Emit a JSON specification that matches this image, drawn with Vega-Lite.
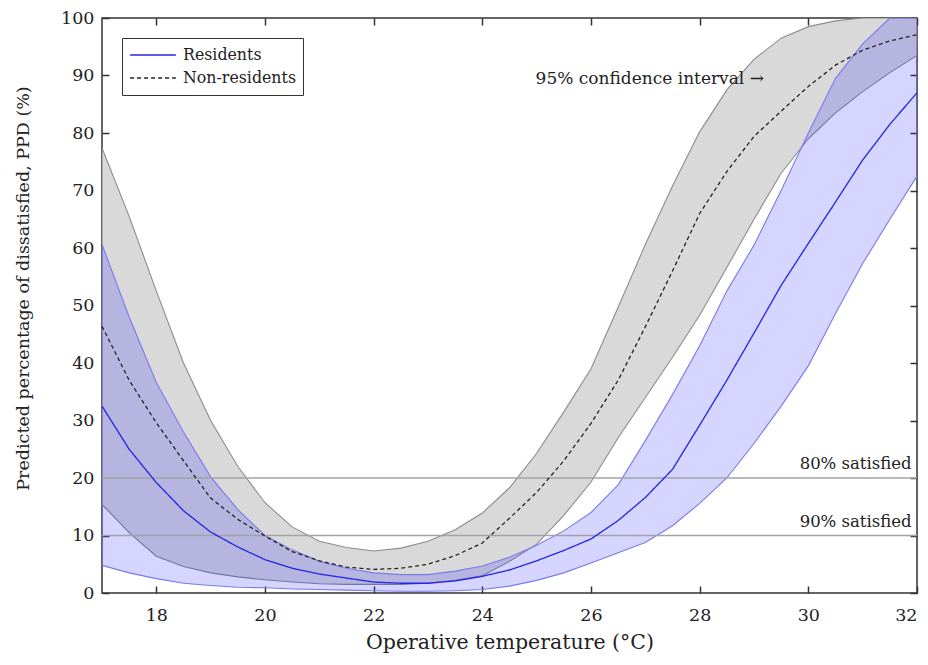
{
  "$schema": "https://vega.github.io/schema/vega-lite/v6.json",
  "width": 815,
  "height": 575,
  "autosize": "none",
  "padding": {"left": 102, "top": 18, "right": 11, "bottom": 72},
  "background": "white",
  "config": {
    "font": "DejaVu Serif",
    "view": {"stroke": "#333", "strokeWidth": 1.5},
    "axis": {
      "domain": false,
      "grid": false,
      "tickColor": "#333",
      "tickWidth": 1.5,
      "tickSize": -7,
      "labelFont": "DejaVu Serif",
      "labelFontSize": 17.5,
      "labelColor": "#222",
      "titleFont": "DejaVu Serif",
      "titleFontSize": 17.5,
      "titleFontWeight": "normal",
      "titleColor": "#222"
    },
    "legend": {
      "orient": "top-left",
      "offset": 20,
      "padding": 7,
      "strokeColor": "#333",
      "fillColor": "white",
      "labelFont": "DejaVu Serif",
      "labelFontSize": 15.8,
      "labelColor": "#222",
      "symbolType": "stroke",
      "symbolSize": 2100,
      "symbolStrokeWidth": 1.4,
      "clipHeight": 20,
      "rowPadding": 3,
      "labelOffset": 6
    }
  },
  "datasets": {
    "ppd": [
      {"T": 17, "group": "Residents", "lo": 4.8, "m": 32.5, "hi": 60.6},
      {"T": 17.5, "group": "Residents", "lo": 3.5, "m": 25, "hi": 48},
      {"T": 18, "group": "Residents", "lo": 2.5, "m": 19.2, "hi": 36.6},
      {"T": 18.5, "group": "Residents", "lo": 1.7, "m": 14.3, "hi": 28},
      {"T": 19, "group": "Residents", "lo": 1.3, "m": 10.6, "hi": 20.2},
      {"T": 19.5, "group": "Residents", "lo": 1.0, "m": 8, "hi": 14.5},
      {"T": 20, "group": "Residents", "lo": 0.9, "m": 5.8, "hi": 10},
      {"T": 20.5, "group": "Residents", "lo": 0.7, "m": 4.3, "hi": 7.5},
      {"T": 21, "group": "Residents", "lo": 0.6, "m": 3.3, "hi": 5.5},
      {"T": 21.5, "group": "Residents", "lo": 0.5, "m": 2.6, "hi": 4.3},
      {"T": 22, "group": "Residents", "lo": 0.4, "m": 1.9, "hi": 3.5},
      {"T": 22.5, "group": "Residents", "lo": 0.3, "m": 1.7, "hi": 3.2},
      {"T": 23, "group": "Residents", "lo": 0.3, "m": 1.7, "hi": 3.2},
      {"T": 23.5, "group": "Residents", "lo": 0.4, "m": 2.1, "hi": 3.8},
      {"T": 24, "group": "Residents", "lo": 0.6, "m": 2.9, "hi": 4.7},
      {"T": 24.5, "group": "Residents", "lo": 1.2, "m": 4.0, "hi": 6.2},
      {"T": 25, "group": "Residents", "lo": 2.2, "m": 5.6, "hi": 8.3},
      {"T": 25.5, "group": "Residents", "lo": 3.5, "m": 7.4, "hi": 10.8},
      {"T": 26, "group": "Residents", "lo": 5.2, "m": 9.4, "hi": 14},
      {"T": 26.5, "group": "Residents", "lo": 7.0, "m": 12.6, "hi": 18.8},
      {"T": 27, "group": "Residents", "lo": 8.8, "m": 16.6, "hi": 26.5},
      {"T": 27.5, "group": "Residents", "lo": 11.7, "m": 21.5, "hi": 34.5},
      {"T": 28, "group": "Residents", "lo": 15.6, "m": 29.2, "hi": 43},
      {"T": 28.5, "group": "Residents", "lo": 20, "m": 37, "hi": 52.5},
      {"T": 29, "group": "Residents", "lo": 26, "m": 45.2, "hi": 60.5},
      {"T": 29.5, "group": "Residents", "lo": 32.5, "m": 53.5, "hi": 70},
      {"T": 30, "group": "Residents", "lo": 39.5, "m": 60.8, "hi": 80},
      {"T": 30.5, "group": "Residents", "lo": 48.6, "m": 68, "hi": 89.5},
      {"T": 31, "group": "Residents", "lo": 57.3, "m": 75.3, "hi": 95.5},
      {"T": 31.5, "group": "Residents", "lo": 65, "m": 81.5, "hi": 100},
      {"T": 32, "group": "Residents", "lo": 72.5, "m": 87, "hi": 100},
      {"T": 17, "group": "Non-residents", "lo": 15.4, "m": 46.4, "hi": 77.4},
      {"T": 17.5, "group": "Non-residents", "lo": 10.5, "m": 37, "hi": 65.5},
      {"T": 18, "group": "Non-residents", "lo": 6.4, "m": 29.6, "hi": 52.5},
      {"T": 18.5, "group": "Non-residents", "lo": 4.6, "m": 23, "hi": 40},
      {"T": 19, "group": "Non-residents", "lo": 3.5, "m": 16.5, "hi": 30},
      {"T": 19.5, "group": "Non-residents", "lo": 2.8, "m": 12.8, "hi": 22},
      {"T": 20, "group": "Non-residents", "lo": 2.3, "m": 9.9, "hi": 15.7},
      {"T": 20.5, "group": "Non-residents", "lo": 1.9, "m": 7.2, "hi": 11.5},
      {"T": 21, "group": "Non-residents", "lo": 1.6, "m": 5.6, "hi": 9.0},
      {"T": 21.5, "group": "Non-residents", "lo": 1.5, "m": 4.5, "hi": 7.9},
      {"T": 22, "group": "Non-residents", "lo": 1.5, "m": 4.1, "hi": 7.3},
      {"T": 22.5, "group": "Non-residents", "lo": 1.5, "m": 4.3, "hi": 7.8},
      {"T": 23, "group": "Non-residents", "lo": 1.7, "m": 5.0, "hi": 9.0},
      {"T": 23.5, "group": "Non-residents", "lo": 2.2, "m": 6.5, "hi": 11},
      {"T": 24, "group": "Non-residents", "lo": 3.0, "m": 8.7, "hi": 13.9},
      {"T": 24.5, "group": "Non-residents", "lo": 5.5, "m": 13, "hi": 18.3},
      {"T": 25, "group": "Non-residents", "lo": 8.5, "m": 17.5, "hi": 24.3},
      {"T": 25.5, "group": "Non-residents", "lo": 13.5, "m": 23, "hi": 31.5},
      {"T": 26, "group": "Non-residents", "lo": 19.3, "m": 29.5, "hi": 39},
      {"T": 26.5, "group": "Non-residents", "lo": 27, "m": 37, "hi": 49.7},
      {"T": 27, "group": "Non-residents", "lo": 34, "m": 46.3, "hi": 60.6},
      {"T": 27.5, "group": "Non-residents", "lo": 41, "m": 56, "hi": 70.8},
      {"T": 28, "group": "Non-residents", "lo": 48.3, "m": 66, "hi": 80.2},
      {"T": 28.5, "group": "Non-residents", "lo": 56.6, "m": 73.3, "hi": 87.5},
      {"T": 29, "group": "Non-residents", "lo": 65, "m": 79.4, "hi": 92.8},
      {"T": 29.5, "group": "Non-residents", "lo": 73, "m": 83.8, "hi": 96.5},
      {"T": 30, "group": "Non-residents", "lo": 79, "m": 88.1, "hi": 98.5},
      {"T": 30.5, "group": "Non-residents", "lo": 83.5, "m": 91.8, "hi": 99.5},
      {"T": 31, "group": "Non-residents", "lo": 87.2, "m": 94.4, "hi": 100},
      {"T": 31.5, "group": "Non-residents", "lo": 90.5, "m": 96, "hi": 100},
      {"T": 32, "group": "Non-residents", "lo": 93.5, "m": 97.1, "hi": 100}
    ],
    "refs": [
      {"ppd": 20, "label": "80% satisfied"},
      {"ppd": 10, "label": "90% satisfied"}
    ]
  },
  "resolve": {"axis": {"x": "independent", "y": "independent"}},
  "layer": [
    {
      "data": {"name": "ppd"},
      "transform": [{"filter": "datum.group === 'Non-residents'"}],
      "mark": {"type": "area", "fill": "#d9d9d9", "stroke": "#8c8c8c", "strokeWidth": 1.1, "clip": true},
      "encoding": {
        "x": {"field": "T", "type": "quantitative", "scale": {"domain": [17, 32], "nice": false, "zero": false},
          "axis": {"values": [18, 20, 22, 24, 26, 28, 30, 32], "title": "Operative temperature (°C)", "titleFontSize": 20.5, "labelPadding": 20, "titlePadding": 9}},
        "y": {"field": "lo", "type": "quantitative", "scale": {"domain": [0, 100], "nice": false},
          "axis": {"values": [0, 10, 20, 30, 40, 50, 60, 70, 80, 90, 100], "title": "Predicted percentage of dissatisfied, PPD (%)", "labelPadding": 15, "titleX": -79, "titleY": 270, "titleAngle": -90, "titleAlign": "center", "titleBaseline": "middle"}},
        "y2": {"field": "hi"}
      }
    },
    {
      "data": {"name": "ppd"},
      "transform": [{"filter": "datum.group === 'Residents'"}],
      "mark": {"type": "area", "fill": "#0000ff", "fillOpacity": 0.165, "stroke": "#7a7aeb", "strokeWidth": 1.1, "clip": true},
      "encoding": {
        "x": {"field": "T", "type": "quantitative", "axis": {"orient": "top", "values": [18, 20, 22, 24, 26, 28, 30, 32], "labels": false, "title": null}},
        "y": {"field": "lo", "type": "quantitative", "axis": {"orient": "right", "values": [0, 10, 20, 30, 40, 50, 60, 70, 80, 90, 100], "labels": false, "title": null}},
        "y2": {"field": "hi"}
      }
    },
    {
      "data": {"name": "refs"},
      "mark": {"type": "rule", "color": "#a3a3a3", "strokeWidth": 1.6},
      "encoding": {"y": {"field": "ppd", "type": "quantitative", "axis": null}}
    },
    {
      "data": {"name": "refs"},
      "mark": {"type": "text", "align": "right", "baseline": "alphabetic", "dy": -9, "fontSize": 16.5, "color": "#222", "font": "DejaVu Serif"},
      "encoding": {
        "x": {"datum": 31.9, "type": "quantitative", "axis": null},
        "y": {"field": "ppd", "type": "quantitative", "axis": null},
        "text": {"field": "label"}
      }
    },
    {
      "data": {"name": "ppd"},
      "mark": {"type": "line", "strokeWidth": 1.3, "clip": true},
      "encoding": {
        "x": {"field": "T", "type": "quantitative", "axis": null},
        "y": {"field": "m", "type": "quantitative", "axis": null},
        "color": {"field": "group", "type": "nominal", "scale": {"domain": ["Residents", "Non-residents"], "range": ["#2424e0", "#222222"]}, "legend": {"title": null}},
        "strokeDash": {"field": "group", "type": "nominal", "scale": {"domain": ["Residents", "Non-residents"], "range": [[1, 0], [4, 3]]}, "legend": {"title": null}}
      }
    },
    {
      "data": {"values": [{"label": "95% confidence interval →"}]},
      "mark": {"type": "text", "align": "left", "baseline": "alphabetic", "fontSize": 17, "color": "#222", "font": "DejaVu Serif"},
      "encoding": {
        "x": {"datum": 24.98, "type": "quantitative", "axis": null},
        "y": {"datum": 88.6, "type": "quantitative", "axis": null},
        "text": {"field": "label"}
      }
    }
  ]
}
